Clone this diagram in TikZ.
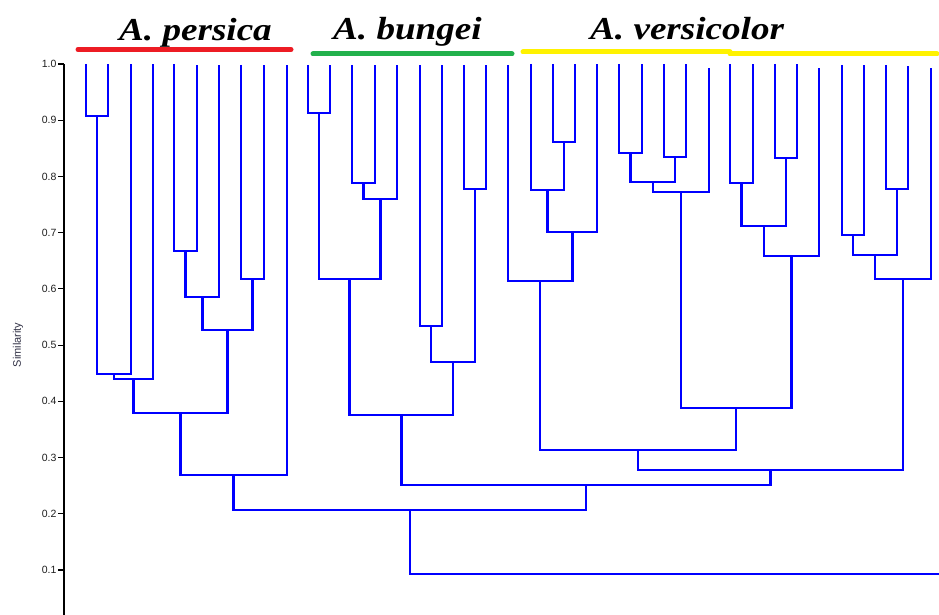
\documentclass[tikz,border=0pt]{standalone}
\usepackage{fontspec}
\usepackage{graphicx}
\setmainfont{Liberation Sans}
\newfontfamily\titlefont{Liberation Serif}
\usetikzlibrary{calc}
\definecolor{barred}{RGB}{237,28,36}
\definecolor{bargreen}{RGB}{34,177,76}
\definecolor{baryellow}{RGB}{255,242,0}
\definecolor{labelgray}{RGB}{50,50,70}
\definecolor{ticktext}{RGB}{30,30,30}
\newcommand\dendjoin[4]{%
  \path ($(#2)!0.5!(#3)$) coordinate (#1tmp);
  \coordinate (#1) at (#1tmp |- 0,#4);
  \draw[branch] (#2) |- (#1) -| (#3);
}
\begin{document}
\begin{tikzpicture}[x=1pt,y=-1pt,
  branch/.style={draw=blue,line width=2.5pt},
  axisline/.style={draw=black,line width=1.2pt},
  ticklabel/.style={anchor=east,inner sep=0pt,text=ticktext,font=\fontsize{10.5}{10.5}\selectfont},
  title/.style={anchor=base west,inner sep=0pt,font=\titlefont\bfseries\itshape\fontsize{32}{32}\selectfont},
  bar/.style={line width=5pt,line cap=round}]
\useasboundingbox (0,0) rectangle (939,615);
% axis
\coordinate (axtop) at (64,64);
\coordinate (axbot) at (64,615);
\draw[axisline] (axtop) -- (axbot);
\foreach \s/\lab in {0/1.0,1/0.9,2/0.8,3/0.7,4/0.6,5/0.5,6/0.4,7/0.3,8/0.2,9/0.1}{
  \coordinate (tk\s) at (64,{64+56.22*\s});
  \draw[axisline] (tk\s) -- ++(-6,0) node[ticklabel,xshift=-1pt] (tl\s) {\lab};
}
\node[rotate=90,text=labelgray,font=\fontsize{11}{11}\selectfont] (ylab) at (18,345) {Similarity};
% leaves
\foreach \i/\x/\t in {1/86/64,2/108/64,3/131/64,4/153/64,5/174/64,6/197/65,7/219/65,8/241/65,9/264/65,10/287/65,
  11/308/65,12/330/65,13/352/65,14/375/65,15/397/65,16/420/65,17/442/65,18/464/65,19/486/65,
  20/508/65,21/531/64,22/553/64,23/575/64,24/597/64,25/619/64,26/642/64,27/664/64,28/686/64,29/709/68,
  30/730/64,31/753/64,32/775/64,33/797/64,34/819/68,35/842/65,36/864/65,37/886/65,38/908/66,39/931/68}{
  \coordinate (L\i) at (\x,\t);
}
% A. persica
\dendjoin{P1}{L1}{L2}{116}
\dendjoin{P2}{P1}{L3}{374}
\dendjoin{P3}{P2}{L4}{379}
\dendjoin{P4}{L5}{L6}{251}
\dendjoin{P5}{P4}{L7}{297}
\dendjoin{P6}{L8}{L9}{279}
\dendjoin{P7}{P5}{P6}{330}
\dendjoin{P8}{P3}{P7}{413}
\dendjoin{P9}{P8}{L10}{475}
% A. bungei
\dendjoin{B1}{L11}{L12}{113}
\dendjoin{B2}{L13}{L14}{183}
\dendjoin{B3}{B2}{L15}{199}
\dendjoin{B4}{B1}{B3}{279}
\dendjoin{B5}{L16}{L17}{326}
\dendjoin{B6}{L18}{L19}{189}
\dendjoin{B7}{B5}{B6}{362}
\dendjoin{B8}{B4}{B7}{415}
% A. versicolor
\dendjoin{V1}{L22}{L23}{142}
\dendjoin{V2}{L21}{V1}{190}
\dendjoin{V3}{V2}{L24}{232}
\dendjoin{V4}{L20}{V3}{281}
\dendjoin{V5}{L25}{L26}{153}
\dendjoin{V6}{L27}{L28}{157}
\dendjoin{V7}{V5}{V6}{182}
\dendjoin{V8}{V7}{L29}{192}
\dendjoin{V9}{L30}{L31}{183}
\dendjoin{V10}{L32}{L33}{158}
\dendjoin{V11}{V9}{V10}{226}
\dendjoin{V12}{V11}{L34}{256}
\dendjoin{V13}{V8}{V12}{408}
\dendjoin{V14}{V4}{V13}{450}
\dendjoin{V15}{L35}{L36}{235}
\dendjoin{V16}{L37}{L38}{189}
\dendjoin{V17}{V15}{V16}{255}
\dendjoin{V18}{V17}{L39}{279}
\dendjoin{V19}{V14}{V18}{470}
% upper joins
\dendjoin{BV}{B8}{V19}{485}
\dendjoin{R}{P9}{BV}{510}
\coordinate (OG) at (939,574);
\draw[branch] (R) |- (OG);
% group bars and titles
\coordinate (rb1) at (78,49.5);  \coordinate (rb2) at (291,49.5);
\coordinate (gb1) at (313,54);   \coordinate (gb2) at (512,54);
\coordinate (yb1) at (523,52);   \coordinate (yb2) at (730,52);
\coordinate (yb3) at (730,54);   \coordinate (yb4) at (937,54);
\draw[bar,barred] (rb1) -- (rb2);
\draw[bar,bargreen] (gb1) -- (gb2);
\draw[bar,baryellow] (yb1) -- (yb2);
\draw[bar,baryellow] (yb3) -- (yb4);
\node[title] (tp) at (119,41) {\scalebox{1.16}[1]{A. persica}};
\node[title] (tb) at (333,40) {\scalebox{1.16}[1]{A. bungei}};
\node[title] (tv) at (590,40) {\scalebox{1.16}[1]{A. versicolor}};
\end{tikzpicture}
\end{document}
